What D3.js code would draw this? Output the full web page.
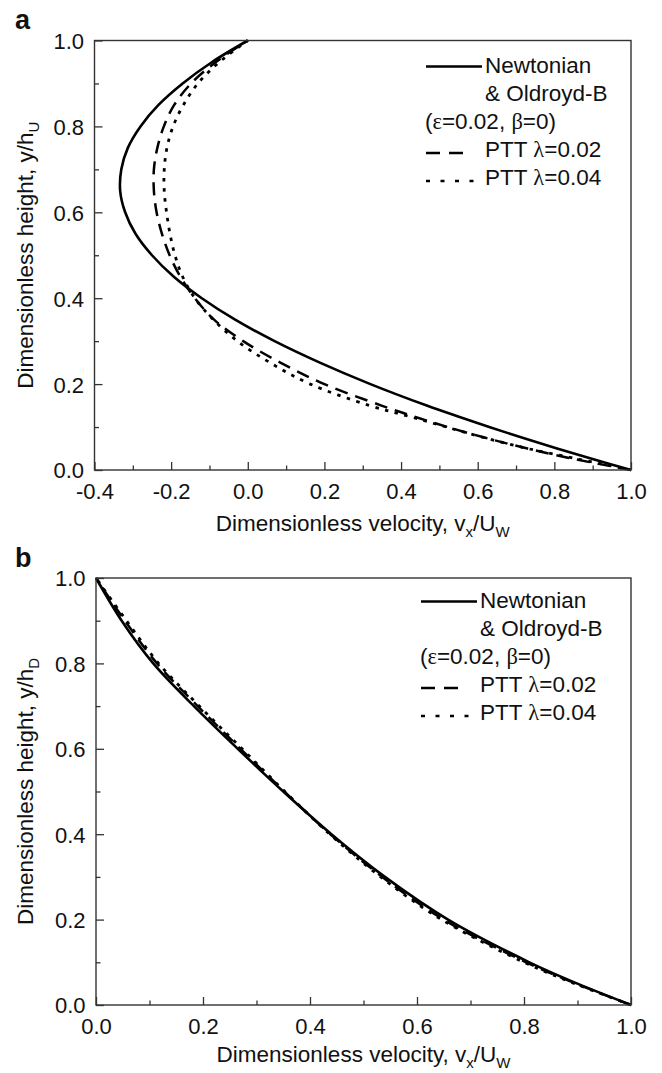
<!DOCTYPE html>
<html><head><meta charset="utf-8">
<script src="https://cdn.jsdelivr.net/npm/d3@7"></script>
<style>
body{margin:0;background:#fff}
svg{display:block}
text{font-family:"Liberation Sans",Arial,Helvetica,sans-serif;fill:#111}
.greek{font-family:"Liberation Serif","DejaVu Serif",serif}
</style>
</head><body>
<svg id="c" width="662" height="1073"></svg>
<script>
// ---------------- data ----------------
// Panel a: dimensionless height y/hU and velocity vx/UW
const heightsA = [0,0.025,0.05,0.075,0.1,0.125,0.15,0.2,0.25,0.3,0.35,0.4,0.45,0.5,0.55,0.6,0.65,0.7,0.75,0.8,0.85,0.9,0.95,1.0];
const newtonianA = [1.0,0.902,0.807,0.717,0.63,0.547,0.467,0.32,0.188,0.07,-0.033,-0.12,-0.193,-0.25,-0.293,-0.32,-0.333,-0.33,-0.313,-0.28,-0.233,-0.17,-0.093,0.0];
const ptt002A   = [1.0,0.855,0.73,0.62,0.522,0.432,0.349,0.2,0.085,-0.012,-0.088,-0.138,-0.176,-0.204,-0.224,-0.238,-0.245,-0.245,-0.236,-0.219,-0.192,-0.148,-0.083,0.0];
const ptt004A   = [1.0,0.865,0.73,0.618,0.518,0.42,0.318,0.163,0.058,-0.027,-0.09,-0.138,-0.17,-0.19,-0.203,-0.212,-0.218,-0.218,-0.211,-0.195,-0.168,-0.13,-0.074,0.0];

// Panel b: dimensionless height y/hD and velocity vx/UW
const heightsB = [0,0.05,0.1,0.2,0.3,0.4,0.5,0.6,0.7,0.8,0.9,1.0];
const newtonianB = [1.0,0.90,0.81,0.658,0.54,0.44,0.35,0.265,0.183,0.107,0.048,0.0];
const ptt002B    = [1.0,0.897,0.804,0.65,0.535,0.438,0.352,0.27,0.19,0.114,0.054,0.0];
const ptt004B    = [1.0,0.895,0.80,0.646,0.532,0.437,0.353,0.273,0.193,0.117,0.057,0.0];

// axes
const xTicksA = [-0.4,-0.2,0.0,0.2,0.4,0.6,0.8,1.0];
const xTickLabelsA = ["-0.4","-0.2","0.0","0.2","0.4","0.6","0.8","1.0"];
const xMinorA = [-0.3,-0.1,0.1,0.3,0.5,0.7,0.9];
const xTicksB = [0.0,0.2,0.4,0.6,0.8,1.0];
const xTickLabelsB = ["0.0","0.2","0.4","0.6","0.8","1.0"];
const xMinorB = [0.1,0.3,0.5,0.7,0.9];
const yTicks = [0.0,0.2,0.4,0.6,0.8,1.0];
const yTickLabels = ["0.0","0.2","0.4","0.6","0.8","1.0"];
const yMinor = [0.1,0.3,0.5,0.7,0.9];

const seriesNames = ["Newtonian","PTT λ=0.02","PTT λ=0.04"];

// ---------------- drawing ----------------
const svg = d3.select("#c");
const styles = [
  {dash:null, width:2.6},
  {dash:"13,8", width:2.5},
  {dash:"3.5,6.5", width:2.8}
];

function panel(cfg){
  const g = svg.append("g");
  const x = d3.scaleLinear().domain(cfg.xDomain).range([cfg.left, cfg.right]);
  const y = d3.scaleLinear().domain([0,1]).range([cfg.bottom, cfg.top]);

  // curves
  const line = d3.line().x(d=>x(d[0])).y(d=>y(d[1])).curve(d3.curveCatmullRom.alpha(0.5));
  cfg.series.forEach((vals,i)=>{
    const pts = vals.map((v,j)=>[v, cfg.heights[j]]);
    g.append("path").attr("d", line(pts)).attr("fill","none")
      .attr("stroke","#000").attr("stroke-width",styles[i].width)
      .attr("stroke-dasharray",styles[i].dash);
  });

  // frame
  g.append("rect").attr("x",cfg.left).attr("y",cfg.top)
    .attr("width",cfg.right-cfg.left).attr("height",cfg.bottom-cfg.top)
    .attr("fill","none").attr("stroke","#333").attr("stroke-width",1.4);

  // bottom axis
  const xa = g.append("g").attr("transform",`translate(0,${cfg.bottom})`)
    .call(d3.axisBottom(x).tickValues(cfg.xTicks).tickSize(-8)
      .tickFormat((d,i)=>cfg.xLabels[i]));
  xa.select(".domain").remove();
  xa.selectAll(".tick line").attr("stroke","#333").attr("stroke-width",1.3);
  xa.selectAll(".tick text").attr("y",cfg.xLabelOffset).attr("dy",null)
    .attr("fill","#111").style("font-size","22px").attr("font-family",null);
  const xm = g.append("g").attr("transform",`translate(0,${cfg.bottom})`)
    .call(d3.axisBottom(x).tickValues(cfg.xMinor).tickSize(-4.5).tickFormat(""));
  xm.select(".domain").remove();
  xm.selectAll(".tick line").attr("stroke","#333").attr("stroke-width",1.3);

  // left axis
  const ya = g.append("g").attr("transform",`translate(${cfg.left},0)`)
    .call(d3.axisLeft(y).tickValues(yTicks).tickSize(-8)
      .tickFormat((d,i)=>yTickLabels[i]));
  ya.select(".domain").remove();
  ya.selectAll(".tick line").attr("stroke","#333").attr("stroke-width",1.3);
  ya.selectAll(".tick text").attr("x",-10.5).attr("dy","0.36em")
    .attr("fill","#111").style("font-size","22px").attr("font-family",null);
  const ym = g.append("g").attr("transform",`translate(${cfg.left},0)`)
    .call(d3.axisLeft(y).tickValues(yMinor).tickSize(-4.5).tickFormat(""));
  ym.select(".domain").remove();
  ym.selectAll(".tick line").attr("stroke","#333").attr("stroke-width",1.3);

  // x title
  const xt = g.append("text").attr("x",(cfg.left+cfg.right)/2).attr("y",cfg.bottom+cfg.xTitleOffset)
    .attr("text-anchor","middle").style("font-size","22.5px");
  xt.append("tspan").text("Dimensionless velocity, v");
  xt.append("tspan").attr("dy",6).style("font-size","15px").text("x");
  xt.append("tspan").attr("dy",-6).text("/U");
  xt.append("tspan").attr("dy",6).style("font-size","15px").text("W");

  // y title
  const yt = g.append("text")
    .attr("transform",`translate(${cfg.yTitleX},${(cfg.top+cfg.bottom)/2}) rotate(-90)`)
    .attr("text-anchor","middle").style("font-size","22.5px");
  yt.append("tspan").text("Dimensionless height, y/h");
  yt.append("tspan").attr("dy",6).style("font-size","15px").text(cfg.sub);

  // panel label
  g.append("text").attr("x",cfg.labelX).attr("y",cfg.labelY)
    .style("font-size","27px").style("font-weight","bold").text(cfg.label);

  // legend
  const L = cfg.legend;
  const lg = g.append("g");
  lg.append("line").attr("x1",L.sx).attr("x2",L.sx+56).attr("y1",L.y0+1.5).attr("y2",L.y0+1.5)
    .attr("stroke","#000").attr("stroke-width",2.4);
  lg.append("text").attr("x",L.tx).attr("y",L.y0+8).style("font-size","22.5px").text(seriesNames[0]);
  lg.append("text").attr("x",L.tx).attr("y",L.y0+8+L.dy).style("font-size","22.5px").text("& Oldroyd-B");
  const p = lg.append("text").attr("x",L.sx-1).attr("y",L.y0+8+2*L.dy).style("font-size","22.5px");
  p.append("tspan").text("(");
  p.append("tspan").attr("class","greek").text("ε");
  p.append("tspan").text("=0.02, ");
  p.append("tspan").attr("class","greek").text("β");
  p.append("tspan").text("=0)");
  [1,2].forEach((k)=>{
    const yy = L.y0 + (2+k)*L.dy;
    lg.append("line").attr("x1",L.sx).attr("x2",k===1?L.sx+37:L.sx+48)
      .attr("y1",yy+4).attr("y2",yy+4).attr("stroke","#000")
      .attr("stroke-width",k===1?2.4:2.6).attr("stroke-dasharray",k===1?"14,9":"4,10.5");
    const t = lg.append("text").attr("x",L.tx).attr("y",yy+8).style("font-size","22.5px");
    t.append("tspan").text("PTT ");
    t.append("tspan").attr("class","greek").text("λ");
    t.append("tspan").text(seriesNames[k].replace("PTT λ",""));
  });
}

panel({
  left:94.5,right:631,top:40.5,bottom:470,xDomain:[-0.4,1.0],
  heights:heightsA, series:[newtonianA,ptt002A,ptt004A],
  xTicks:xTicksA, xLabels:xTickLabelsA, xMinor:xMinorA,
  xLabelOffset:28.5, xTitleOffset:61, yTitleX:33, sub:"U",
  label:"a", labelX:15, labelY:29,
  legend:{sx:426, tx:485, y0:65, dy:28}
});
panel({
  left:96,right:631,top:578,bottom:1005,xDomain:[0,1.0],
  heights:heightsB, series:[newtonianB,ptt002B,ptt004B],
  xTicks:xTicksB, xLabels:xTickLabelsB, xMinor:xMinorB,
  xLabelOffset:29, xTitleOffset:57, yTitleX:33, sub:"D",
  label:"b", labelX:15, labelY:567,
  legend:{sx:421, tx:480, y0:600, dy:28}
});
</script>
</body></html>
